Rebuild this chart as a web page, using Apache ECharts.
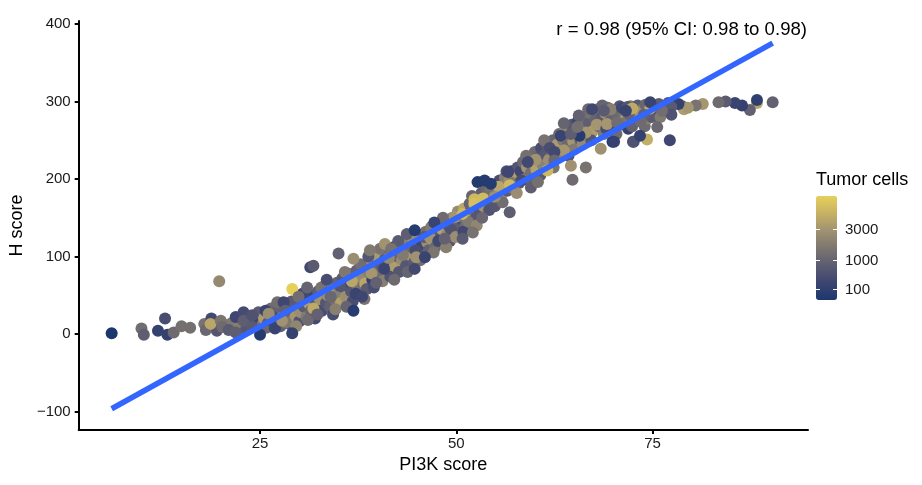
<!DOCTYPE html>
<html><head><meta charset="utf-8">
<script src="https://cdn.jsdelivr.net/npm/echarts@6/dist/echarts.min.js"></script>
<style>html,body{margin:0;padding:0;background:#fff}#chart{width:922px;height:485px}</style>
</head><body><div id="chart"></div>
<script>
// ---- data (band points first, isolated/read points last) ----
const pi3k = [
  19.0,19.5,20.5,21.4,22.3,23.2,23.5,24.4,24.8,25.3,
  25.5,26.0,26.4,26.7,27.0,27.5,27.6,28.0,28.5,28.6,
  28.9,29.3,29.5,29.8,30.0,30.2,30.5,30.6,30.9,31.2,
  31.5,31.7,32.0,32.1,32.4,32.6,32.9,33.2,33.4,33.6,
  33.9,34.1,34.3,34.5,34.8,35.0,35.3,35.5,35.7,35.9,
  36.2,36.4,36.6,36.8,37.0,37.3,37.5,37.7,38.0,38.2,
  38.4,38.6,38.9,39.1,39.3,39.5,39.7,40.0,40.2,40.4,
  40.6,40.9,41.1,41.3,41.6,41.8,42.0,42.2,42.5,42.7,
  42.9,43.1,43.4,43.6,43.9,44.1,44.3,44.6,44.9,45.1,
  45.3,45.6,45.8,46.1,46.3,46.5,46.8,47.0,47.3,47.5,
  47.8,48.0,48.2,48.5,48.8,49.0,49.2,49.5,49.7,50.0,
  50.2,50.5,50.7,51.0,51.2,51.4,51.7,51.9,52.2,52.5,
  52.8,53.0,53.2,53.5,53.8,54.0,54.2,54.5,54.7,55.0,
  55.2,55.5,55.7,56.0,56.2,56.5,56.8,57.0,57.2,57.5,
  57.8,58.0,58.2,58.5,58.8,59.0,59.3,59.5,59.8,60.0,
  60.2,60.5,60.8,61.0,61.3,61.5,61.8,62.0,62.3,62.6,
  62.9,63.1,63.4,63.6,63.9,64.1,64.4,64.7,64.9,65.2,
  65.5,65.8,66.0,66.3,66.6,66.9,67.1,67.4,67.7,68.0,
  68.2,68.5,68.8,69.0,69.3,69.6,69.9,70.2,70.5,70.8,
  71.0,71.3,71.6,71.9,72.2,72.8,73.1,73.7,74.0,74.4,
  75.0,75.3,75.8,76.5,77.0,78.8,79.0,
  25.8,26.6,27.3,28.3,29.0,29.6,30.4,31.1,31.8,32.3,
  32.8,33.5,34.0,34.6,35.2,35.8,36.0,36.7,37.2,37.8,
  38.3,38.8,39.2,39.8,40.3,40.8,41.4,42.1,42.6,43.2,
  43.8,44.4,44.8,45.4,45.9,46.6,47.1,47.7,48.3,48.7,
  49.3,49.9,50.4,50.9,51.5,52.0,52.6,53.3,53.9,54.3,
  54.9,55.4,55.9,56.4,57.1,57.7,58.3,58.9,59.6,60.1,
  60.7,61.2,61.9,62.4,63.0,63.7,64.3,65.0,65.6,66.1,
  66.8,67.2,67.9,68.6,69.1,69.7,70.4,71.1,71.8,72.4,
  73.3,74.1,74.9,75.5,76.0,
  6.1,9.9,10.2,12.0,12.9,13.2,14.0,15.0,16.1,19.8,
  17.9,18.1,18.8,18.7,20.0,20.2,21.0,21.9,21.9,22.9,
  22.9,24.0,24.0,25.0,25.7,26.1,26.9,27.2,28.0,28.2,
  29.1,29.1,27.8,29.9,31.0,31.4,31.8,35.0,36.9,39.0,
  36.9,38.0,40.9,41.7,43.7,44.7,44.9,44.7,47.2,46.0,
  48.5,49.8,50.8,52.1,52.7,52.3,50.8,53.6,56.8,64.8,
  66.5,69.9,72.6,67.3,68.8,71.8,72.6,66.5,65.7,63.7,
  62.5,64.6,61.6,59.1,56.6,56.8,53.4,54.9,52.3,59.5,
  60.4,62.5,63.3,64.6,65.4,69.2,70.5,72.0,68.4,90.3,
  88.3,88.3,87.4,86.4,85.5,84.3,83.4,81.4,80.5,79.5,
  77.2,74.3,72.5,73.4,75.6,70.1,78.3,77.4,77.4,76.2,
  74.7,74.7,72.4,71.6,73.9,73.5,54.4
];
const hScore = [
  10,4,12,14,10,5,20,15,28,12,
  20,14,33,22,18,28,10,25,20,35,
  12,30,22,38,16,28,45,35,22,40,
  30,50,20,38,55,45,30,62,40,50,
  35,58,25,45,66,52,40,72,60,48,
  78,65,55,42,70,82,60,50,75,88,
  65,58,80,95,70,60,85,100,78,90,
  68,96,82,105,74,92,112,88,100,80,
  115,95,108,88,120,102,112,92,122,108,
  128,115,100,132,118,108,138,122,112,130,
  142,118,135,145,128,140,120,150,132,145,
  158,138,148,162,140,155,168,148,160,150,
  172,158,182,165,188,170,160,180,192,172,
  185,198,178,190,202,185,198,210,188,205,
  215,195,210,222,200,215,228,208,220,235,
  212,228,240,218,232,245,225,238,250,230,
  245,258,235,250,265,242,255,270,248,262,
  275,250,268,280,258,272,285,262,276,290,
  268,280,258,285,292,275,262,288,282,294,
  270,285,278,265,294,280,295,290,268,278,
  293,285,297,292,298,294,290,
  8,16,35,15,42,10,52,18,33,25,
  60,70,48,32,62,80,35,68,52,90,
  45,100,78,66,110,84,98,70,120,102,
  80,125,108,95,125,125,105,120,150,112,
  135,125,152,132,145,178,140,150,175,185,
  165,190,170,210,195,182,198,230,198,225,
  205,250,240,215,228,272,230,238,282,245,
  290,250,270,295,265,290,258,292,275,268,
  286,296,280,290,280,
  1,7,-1,4,20,-1,2,10,8,68,
  13,5,20,13,17,9,5,22,2,28,
  17,24,9,-1,30,26,7,41,41,30,
  58,1,17,48,60,86,88,104,97,108,
  30,48,116,110,129,134,99,84,144,99,
  123,151,155,131,196,174,123,198,157,199,
  215,248,248,290,288,293,288,260,256,237,
  235,217,211,222,209,192,175,177,168,189,
  196,224,256,258,267,271,273,284,239,299,
  298,302,289,295,298,300,299,297,295,292,
  250,251,248,256,267,248,297,293,283,288,
  291,299,291,288,283,274,194
];
const tumorCells = [
  600,600,2500,1700,1900,600,1000,250,700,1500,
  3200,800,1200,600,2400,400,900,3500,1100,2000,
  600,1400,3000,900,500,2600,1500,700,1800,3300,
  1000,250,300,600,800,2900,400,1200,600,2500,
  900,3200,400,1400,1000,2000,3500,700,600,2700,
  1100,250,600,400,3000,900,1500,800,2400,1200,
  3800,700,1800,2600,150,400,1400,3200,1200,800,
  2000,600,2900,900,500,400,250,3400,1100,600,
  1500,2500,800,600,2000,3000,1200,700,1700,4000,
  1000,250,500,1400,2600,900,1800,3300,1200,700,
  2100,1500,3600,1000,2400,600,600,1900,3100,1100,
  2500,800,400,3800,1200,250,1000,3000,1500,600,
  2000,600,800,2800,1100,1700,500,3500,1400,2300,
  900,400,3100,1200,2000,700,2600,150,1500,3400,
  600,800,250,1100,1800,2900,600,1400,2400,1200,
  3600,900,400,2100,600,700,2700,1500,1000,2000,
  3200,1200,800,1800,2500,1100,1400,600,3000,600,
  250,900,1700,1200,2600,800,1500,3300,1000,2000,
  600,700,1800,2800,1200,900,400,3500,1100,600,
  2300,1400,3000,150,1700,2600,700,1500,1200,2100,
  600,3200,800,1000,400,1200,3400,
  1100,300,900,1700,700,2300,300,1200,4000,900,
  1500,400,1100,2000,600,1700,1000,3800,200,1300,
  1600,600,3000,900,1500,200,2400,1200,700,1800,
  1000,2700,400,1300,700,2900,1600,300,1200,2000,
  500,2600,1400,300,1800,1000,2300,1100,400,1400,
  600,3800,1300,500,1700,2600,400,1400,1000,2900,
  700,1500,400,1600,2200,1000,500,1800,900,2400,
  1200,600,3000,1000,400,2000,1200,300,1600,900,
  2500,1100,700,400,1800,
  5,1300,800,150,400,150,1200,1400,1400,2400,
  1500,1100,300,3800,1600,1200,700,250,800,350,
  800,500,700,30,200,2600,200,1300,250,900,
  6200,150,2800,1300,1000,300,700,900,2700,1800,
  40,250,2900,1500,800,40,2800,300,200,200,
  900,3000,4800,1500,30,4800,700,40,800,1200,
  1500,40,300,300,700,600,3000,3000,40,3000,
  300,2800,4800,300,250,4800,5000,2700,5200,800,
  1400,1100,200,800,1400,3000,1300,1000,2800,900,
  3800,100,900,150,200,700,1200,3000,1500,3000,
  250,4200,500,150,1100,150,150,700,500,1300,
  4000,200,4000,200,900,1200,40
];
const fitX = [6.1, 90.3];
const fitY = [-96.6, 375.5];
const xTicks = [25, 50, 75];
const yTicks = [-100, 0, 100, 200, 300, 400];
const legendTicks = [100, 1000, 3000];
const annotation = 'r = 0.98 (95% CI: 0.98 to 0.98)';

// ---- chart ----
const FONT = '"Liberation Sans", Arial, Helvetica, sans-serif';
const chart = echarts.init(document.getElementById('chart'), null, {renderer: 'canvas'});
const sMin = Math.sqrt(Math.min(...tumorCells));
const sMax = Math.sqrt(Math.max(...tumorCells));
const points = pi3k.map((x, i) => [x, hScore[i], Math.sqrt(tumorCells[i]), tumorCells[i]]);
const bar = {left: 816, top: 196, width: 21, height: 104};
const tickY = v => bar.top + bar.height - (Math.sqrt(v) - sMin) / (sMax - sMin) * bar.height;

const graphics = [];
legendTicks.forEach(v => {
  const y = Math.round(tickY(v)) + 0.5;
  graphics.push({type: 'line', z: 100, shape: {x1: bar.left, y1: y, x2: bar.left + 4, y2: y}, style: {stroke: '#ffffff', lineWidth: 1}});
  graphics.push({type: 'line', z: 100, shape: {x1: bar.left + bar.width - 4, y1: y, x2: bar.left + bar.width, y2: y}, style: {stroke: '#ffffff', lineWidth: 1}});
  graphics.push({type: 'text', z: 100, x: bar.left + bar.width + 8, y: y, style: {text: String(v), fontSize: 15, fontFamily: FONT, fill: '#1a1a1a', verticalAlign: 'middle', align: 'left'}});
});
graphics.push({type: 'text', z: 100, x: bar.left, y: 180, style: {text: 'Tumor cells', fontSize: 18, fontFamily: FONT, fill: '#000', verticalAlign: 'middle', align: 'left'}});
graphics.push({type: 'text', z: 100, x: 807, y: 30, style: {text: annotation, fontSize: 18.6, fontFamily: FONT, fill: '#000', verticalAlign: 'middle', align: 'right'}});

const axisCommon = {
  type: 'value',
  splitLine: {show: false},
  axisLine: {show: true, onZero: false, lineStyle: {color: '#000', width: 2}},
  nameLocation: 'middle',
  nameTextStyle: {fontSize: 18, fontFamily: FONT, color: '#000'}
};

chart.setOption({
  animation: false,
  backgroundColor: '#ffffff',
  grid: {left: 76, right: 114, top: 21, bottom: 55},
  xAxis: Object.assign({}, axisCommon, {
    min: 1.9, max: 94.8,
    name: 'PI3K score', nameGap: 25,
    axisTick: {show: true, length: 4, customValues: xTicks, lineStyle: {color: '#000', width: 2}},
    axisLabel: {customValues: xTicks, fontSize: 15, fontFamily: FONT, color: '#1a1a1a', margin: 6}
  }),
  yAxis: Object.assign({}, axisCommon, {
    min: -124, max: 404,
    name: 'H score', nameGap: 48,
    axisTick: {show: true, length: 4, customValues: yTicks, lineStyle: {color: '#000', width: 2}},
    axisLabel: {customValues: yTicks, fontSize: 15, fontFamily: FONT, color: '#1a1a1a', margin: 8,
      formatter: v => (v < 0 ? '\u2212' + Math.abs(v) : String(v))}
  }),
  visualMap: {
    type: 'continuous', seriesIndex: 0, dimension: 2,
    min: sMin, max: sMax, calculable: false, showLabel: false, text: null,
    left: bar.left, top: bar.top, padding: 0,
    itemWidth: bar.width, itemHeight: bar.height,
    inRange: {color: ['#1c376e', '#3c4571', '#5d5c71', '#7c7670', '#a09271', '#c6b164', '#e6d05a']}
  },
  graphic: graphics,
  series: [
    {type: 'scatter', data: points, symbolSize: 12, itemStyle: {opacity: 1}, z: 2, silent: true},
    {type: 'line', data: fitX.map((x, i) => [x, fitY[i]]), symbol: 'none', silent: true, z: 3,
      lineStyle: {color: '#3366FF', width: 5.5, cap: 'butt'}}
  ]
});
</script></body></html>
